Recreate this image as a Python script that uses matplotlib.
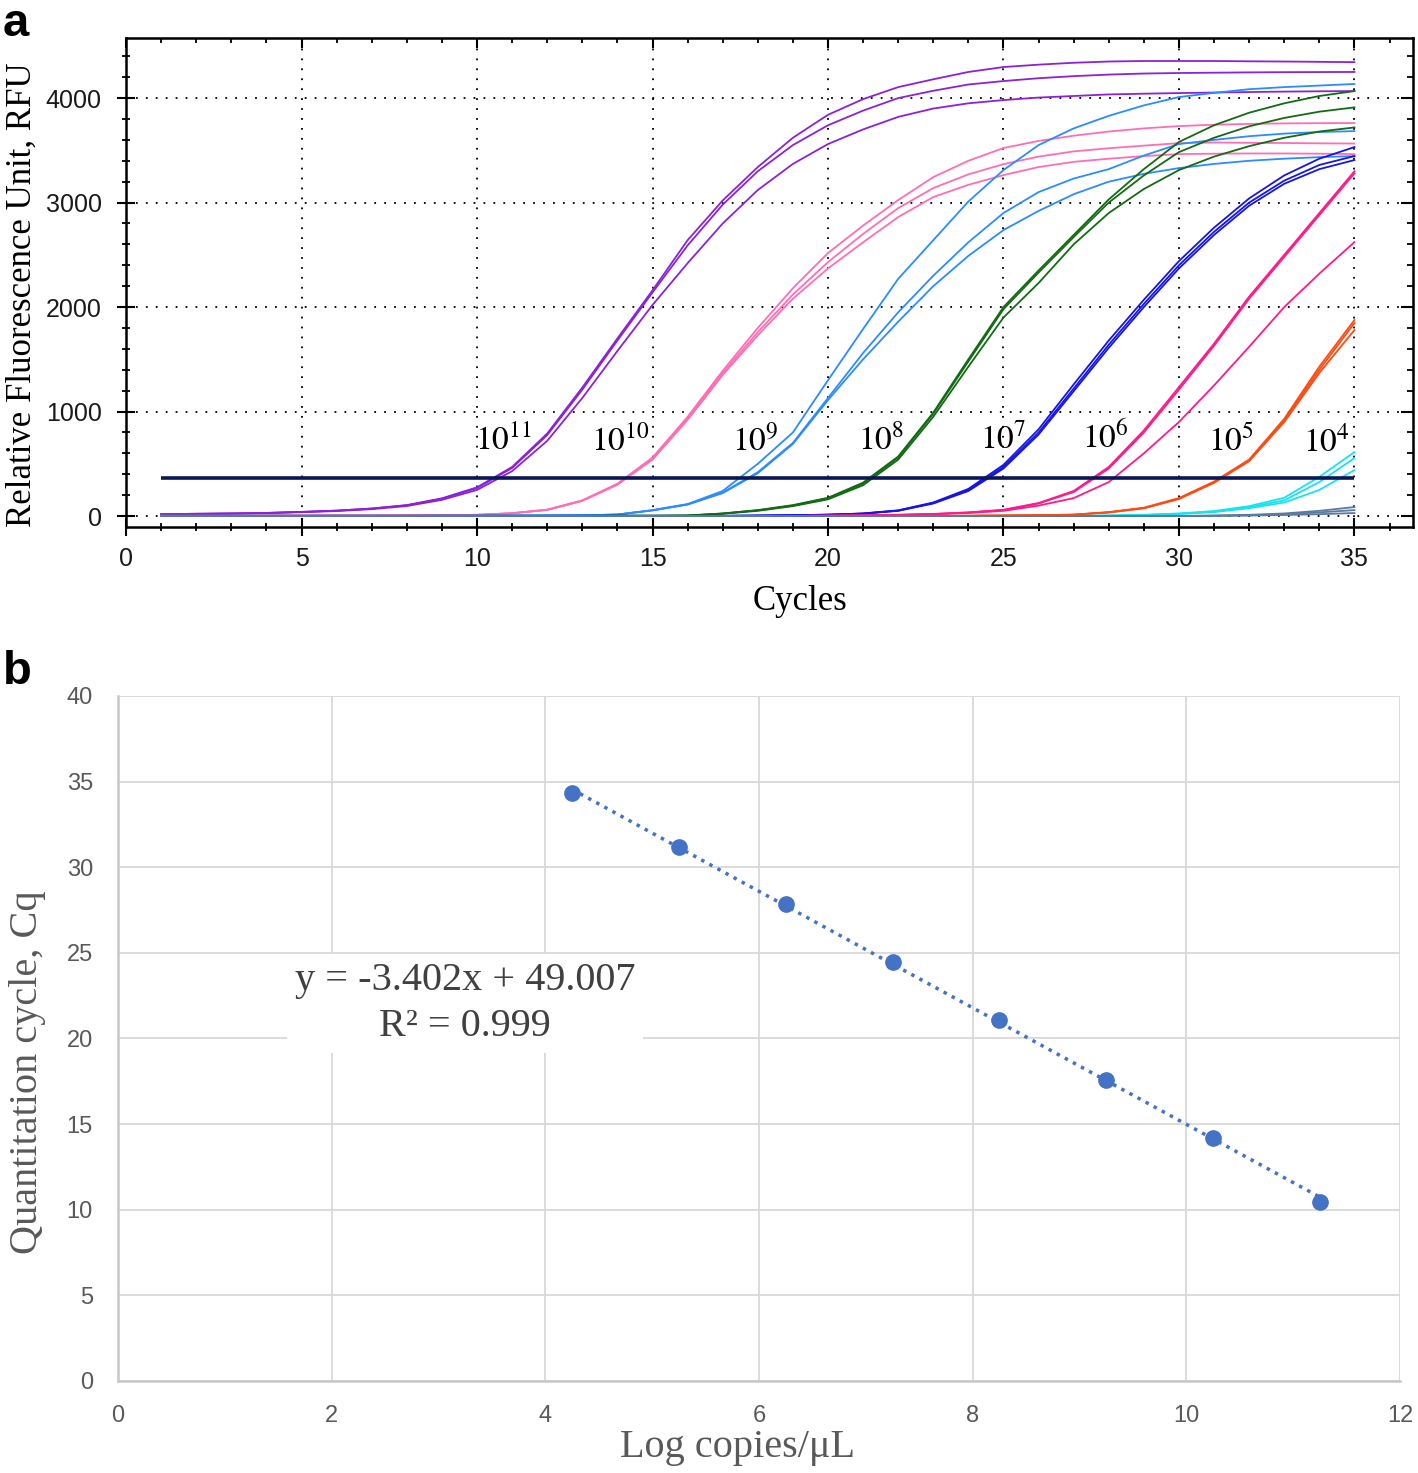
import numpy as np
import matplotlib
matplotlib.use('Agg')
import matplotlib.pyplot as plt
from matplotlib.ticker import MultipleLocator, NullFormatter

plt.rcParams['mathtext.fontset'] = 'stix'
plt.rcParams['font.family'] = ['Liberation Sans', 'DejaVu Sans']

# ---------------- panel a: amplification curves (RFU per cycle) ----------------
cycles = np.arange(1, 36)

rfu_e11_a = [18, 22, 25, 30, 40, 52, 72, 105, 170, 275, 470, 790, 1230, 1700, 2160, 2640, 3020, 3340, 3620, 3840,
             3990, 4105, 4180, 4250, 4297, 4320, 4338, 4350, 4355, 4355, 4355, 4352, 4350, 4347, 4344]
rfu_e11_b = [18, 22, 25, 30, 40, 52, 72, 103, 165, 268, 460, 775, 1210, 1680, 2140, 2590, 2980, 3300, 3550, 3740,
             3880, 4000, 4070, 4130, 4163, 4190, 4210, 4225, 4235, 4240, 4243, 4246, 4248, 4249, 4250]
rfu_e11_c = [16, 20, 23, 28, 37, 48, 66, 96, 155, 250, 430, 720, 1130, 1580, 2020, 2420, 2800, 3120, 3370, 3560,
             3700, 3820, 3900, 3950, 3981, 4005, 4020, 4035, 4042, 4048, 4053, 4058, 4062, 4065, 4067]

rfu_e10_a = [3, 3, 3, 4, 4, 5, 5, 6, 8, 12, 28, 62, 150, 310, 560, 950, 1390, 1800, 2180, 2517,
             2780, 3024, 3244, 3400, 3522, 3590, 3640, 3680, 3710, 3732, 3745, 3753, 3758, 3760, 3761]
rfu_e10_b = [3, 3, 3, 4, 4, 5, 5, 6, 8, 12, 27, 60, 148, 305, 550, 935, 1370, 1760, 2120, 2430,
             2700, 2947, 3139, 3270, 3368, 3440, 3490, 3520, 3545, 3569, 3575, 3572, 3570, 3567, 3565]
rfu_e10_c = [3, 3, 3, 4, 4, 5, 5, 6, 8, 11, 26, 58, 145, 300, 540, 920, 1350, 1730, 2080, 2370,
             2620, 2861, 3053, 3170, 3263, 3340, 3390, 3420, 3445, 3464, 3468, 3470, 3470, 3468, 3464]

rfu_e9_a = [2, 2, 2, 2, 2, 2, 2, 2, 3, 3, 4, 5, 7, 15, 57, 115, 240, 500, 800, 1300,
            1790, 2270, 2640, 3010, 3311, 3550, 3710, 3830, 3930, 4010, 4050, 4085, 4105, 4120, 4135]
rfu_e9_b = [2, 2, 2, 2, 2, 2, 2, 2, 3, 3, 4, 5, 7, 14, 55, 112, 225, 420, 700, 1130,
            1560, 1950, 2300, 2620, 2900, 3100, 3230, 3320, 3450, 3560, 3600, 3635, 3660, 3675, 3684]
rfu_e9_c = [2, 2, 2, 2, 2, 2, 2, 2, 3, 3, 4, 5, 7, 14, 54, 110, 220, 410, 690, 1110,
            1500, 1860, 2200, 2490, 2737, 2920, 3080, 3200, 3275, 3330, 3370, 3400, 3420, 3435, 3445]

rfu_e8_a = [2, 2, 2, 2, 2, 2, 2, 2, 2, 2, 2, 2, 2, 3, 3, 5, 25, 57, 105, 175,
            320, 570, 990, 1500, 2000, 2350, 2690, 3030, 3320, 3580, 3740, 3860, 3950, 4020, 4067]
rfu_e8_b = [2, 2, 2, 2, 2, 2, 2, 2, 2, 2, 2, 2, 2, 3, 3, 5, 24, 55, 100, 170,
            310, 560, 980, 1480, 1980, 2330, 2670, 3000, 3260, 3483, 3620, 3730, 3810, 3870, 3911]
rfu_e8_c = [2, 2, 2, 2, 2, 2, 2, 2, 2, 2, 2, 2, 2, 3, 3, 4, 22, 50, 95, 160,
            295, 540, 950, 1430, 1900, 2230, 2600, 2900, 3130, 3311, 3440, 3540, 3620, 3680, 3719]

rfu_e7_a = [2, 2, 2, 2, 2, 2, 2, 2, 2, 2, 2, 2, 2, 2, 2, 2, 2, 5, 8, 14,
            25, 55, 130, 260, 490, 830, 1260, 1680, 2070, 2440, 2760, 3040, 3260, 3420, 3531]
rfu_e7_b = [2, 2, 2, 2, 2, 2, 2, 2, 2, 2, 2, 2, 2, 2, 2, 2, 2, 5, 8, 13,
            24, 52, 125, 250, 470, 800, 1220, 1640, 2030, 2400, 2720, 3000, 3210, 3360, 3445]
rfu_e7_c = [2, 2, 2, 2, 2, 2, 2, 2, 2, 2, 2, 2, 2, 2, 2, 2, 2, 4, 7, 12,
            23, 50, 120, 240, 455, 780, 1195, 1610, 2000, 2370, 2690, 2970, 3180, 3320, 3407]

rfu_e6_a = [1, 1, 1, 1, 1, 1, 1, 1, 1, 1, 1, 1, 1, 1, 1, 1, 1, 1, 1, 4,
            7, 12, 20, 35, 60, 125, 240, 470, 820, 1234, 1650, 2100, 2500, 2900, 3300]
rfu_e6_b = [1, 1, 1, 1, 1, 1, 1, 1, 1, 1, 1, 1, 1, 1, 1, 1, 1, 1, 1, 4,
            7, 12, 20, 34, 58, 120, 230, 455, 800, 1210, 1630, 2080, 2480, 2880, 3280]
rfu_e6_c = [1, 1, 1, 1, 1, 1, 1, 1, 1, 1, 1, 1, 1, 1, 1, 1, 1, 1, 1, 3,
            6, 10, 17, 30, 50, 100, 172, 325, 600, 900, 1250, 1620, 2000, 2320, 2622]

rfu_e5_a = [1, 1, 1, 1, 1, 1, 1, 1, 1, 1, 1, 1, 1, 1, 1, 1, 1, 1, 1, 1,
            1, 1, 1, 3, 5, 8, 14, 38, 80, 172, 330, 540, 930, 1430, 1876]
rfu_e5_b = [1, 1, 1, 1, 1, 1, 1, 1, 1, 1, 1, 1, 1, 1, 1, 1, 1, 1, 1, 1,
            1, 1, 1, 3, 5, 8, 13, 36, 77, 168, 325, 535, 915, 1400, 1847]
rfu_e5_c = [1, 1, 1, 1, 1, 1, 1, 1, 1, 1, 1, 1, 1, 1, 1, 1, 1, 1, 1, 1,
            1, 1, 1, 3, 5, 7, 12, 34, 74, 163, 318, 525, 900, 1370, 1780]

rfu_e4_a = [0, 0, 0, 0, 0, 0, 0, 0, 0, 0, 0, 0, 0, 0, 0, 0, 0, 0, 0, 0,
            0, 0, 0, 0, 0, 0, 1, 5, 12, 25, 48, 95, 175, 375, 612]
rfu_e4_b = [0, 0, 0, 0, 0, 0, 0, 0, 0, 0, 0, 0, 0, 0, 0, 0, 0, 0, 0, 0,
            0, 0, 0, 0, 0, 0, 1, 4, 10, 22, 42, 85, 150, 325, 555]
rfu_e4_c = [0, 0, 0, 0, 0, 0, 0, 0, 0, 0, 0, 0, 0, 0, 0, 0, 0, 0, 0, 0,
            0, 0, 0, 0, 0, 0, 1, 3, 9, 20, 38, 75, 130, 250, 440]

rfu_ntc_a = [0, 0, 0, 0, 0, 0, 0, 0, 0, 0, 0, 0, 0, 0, 0, 0, 0, 0, 0, 0,
             0, 0, 0, 0, 0, 0, 0, 0, 0, 1, 5, 12, 25, 50, 86]
rfu_ntc_b = [0, 0, 0, 0, 0, 0, 0, 0, 0, 0, 0, 0, 0, 0, 0, 0, 0, 0, 0, 0,
             0, 0, 0, 0, 0, 0, 0, 0, 0, 1, 3, 8, 18, 35, 57]
rfu_ntc_c = [0, 0, 0, 0, 0, 0, 0, 0, 0, 0, 0, 0, 0, 0, 0, 0, 0, 0, 0, 0,
             0, 0, 0, 0, 0, 0, 0, 0, 0, 0, 2, 5, 10, 18, 29]

group_colors = ['#8b22d8', '#ff6eb4', '#2a8cff', '#136b13', '#1515e8', '#ff1a8c', '#ff4a10', '#17e3ee', '#5a7aa0']
group_curves = [
    [rfu_e11_a, rfu_e11_b, rfu_e11_c],
    [rfu_e10_a, rfu_e10_b, rfu_e10_c],
    [rfu_e9_a, rfu_e9_b, rfu_e9_c],
    [rfu_e8_a, rfu_e8_b, rfu_e8_c],
    [rfu_e7_a, rfu_e7_b, rfu_e7_c],
    [rfu_e6_a, rfu_e6_b, rfu_e6_c],
    [rfu_e5_a, rfu_e5_b, rfu_e5_c],
    [rfu_e4_a, rfu_e4_b, rfu_e4_c],
    [rfu_ntc_a, rfu_ntc_b, rfu_ntc_c],
]
threshold = 364

dilution_labels = ['$10^{11}$', '$10^{10}$', '$10^{9}$', '$10^{8}$', '$10^{7}$', '$10^{6}$', '$10^{5}$', '$10^{4}$']
label_cycle = [10.75, 14.09, 17.92, 21.51, 25.0, 27.89, 31.5, 34.2]
label_rfu = [630, 625, 630, 640, 650, 650, 615, 615]

# ---------------- panel b: standard curve ----------------
log_copies = [4.25, 5.25, 6.25, 7.25, 8.25, 9.25, 10.25, 11.25]
cq = [34.35, 31.2, 27.85, 24.45, 21.1, 17.55, 14.2, 10.45]
slope, intercept, r2 = -3.402, 49.007, 0.999

serif = 'Liberation Serif'

fig = plt.figure(figsize=(14.18, 14.73), dpi=100)

# ----- a -----
ax = fig.add_axes([0.0889, 0.6422, 0.9076, 0.3320])
for color, reps in zip(group_colors, group_curves):
    for r in reps:
        ax.plot(cycles, r, color=color, lw=1.3, zorder=3)
ax.hlines(threshold, cycles[0], cycles[-1], color='#0b1657', lw=2.6, zorder=4)

for lab, xc, yc in zip(dilution_labels, label_cycle, label_rfu):
    ax.text(xc, yc, lab, ha='center', va='baseline', fontsize=24, color='black', zorder=5)

ax.set_xlim(0, 36.67)
ax.set_ylim(-105, 4575)
ax.xaxis.set_major_locator(MultipleLocator(5))
ax.xaxis.set_minor_locator(MultipleLocator(1))
ax.yaxis.set_major_locator(MultipleLocator(1000))
ax.yaxis.set_minor_locator(MultipleLocator(200))
ax.grid(True, which='major', color='black', linestyle=(0, (1, 4.5)), lw=1.3)
ax.set_axisbelow(True)
ax.tick_params(which='major', direction='inout', length=13, width=1.5, labelsize=18, labelcolor='#1a1a1a')
ax.tick_params(axis='x', which='major', pad=8)
ax.tick_params(axis='y', which='major', pad=11)
ax.tick_params(which='minor', direction='inout', length=6, width=1.3)
for s in ax.spines.values():
    s.set_linewidth(1.8)

top = ax.secondary_xaxis('top')
top.xaxis.set_major_locator(MultipleLocator(5))
top.xaxis.set_minor_locator(MultipleLocator(1))
top.xaxis.set_major_formatter(NullFormatter())
top.tick_params(which='major', direction='in', length=7, width=1.5)
top.tick_params(which='minor', direction='in', length=3.5, width=1.3)
right = ax.secondary_yaxis('right')
right.yaxis.set_major_locator(MultipleLocator(1000))
right.yaxis.set_minor_locator(MultipleLocator(200))
right.yaxis.set_major_formatter(NullFormatter())
right.tick_params(which='major', direction='in', length=9, width=1.5)
right.tick_params(which='minor', direction='in', length=4.5, width=1.3)

fig.text(22 / 1418, 1 - 295 / 1473, 'Relative Fluorescence Unit, RFU', rotation=90,
         ha='center', va='center', fontsize=25, family=serif)
fig.text(800 / 1418, 1 - 601 / 1473, 'Cycles', ha='center', va='center', fontsize=25, family=serif)
fig.text(3 / 1418, 1 - 2 / 1473, 'a', ha='left', va='top', fontsize=34, fontweight='bold')

# ----- b -----
bx = fig.add_axes([0.0832, 0.0625, 0.9041, 0.4650])
bx.set_xlim(0, 12)
bx.set_ylim(0, 40)
bx.set_xticks(range(0, 13, 2))
bx.set_yticks(range(0, 41, 5))
bx.grid(True, color='#d9d9d9', lw=1.3)
bx.set_axisbelow(True)
for s in ['top', 'right']:
    bx.spines[s].set_visible(False)
for s in ['left', 'bottom']:
    bx.spines[s].set_color('#c8c8c8')
    bx.spines[s].set_linewidth(1.8)
bx.tick_params(length=0, labelsize=17, labelcolor='#595959')
bx.tick_params(axis='x', pad=17)
bx.tick_params(axis='y', pad=18)
for lab in bx.get_xticklabels() + bx.get_yticklabels():
    lab.set_family(['Liberation Sans Narrow', 'Liberation Sans'])

xfit = np.array([log_copies[0], log_copies[-1]])
bx.plot(xfit, slope * xfit + intercept, ls=':', color='#4472c4', lw=2.5, zorder=3)
bx.plot(log_copies, cq, 'o', color='#4472c4', ms=11, zorder=4)

bx.text(3.25, 22.05, f'y = {slope}x + {intercept:.3f}\nR\u00b2 = {r2}', ha='center', va='center',
        fontsize=29, family=serif, color='#404040', linespacing=1.3, zorder=5,
        bbox=dict(facecolor='white', edgecolor='none', boxstyle='square,pad=0.2'))

fig.text(28 / 1418, 1 - 1072 / 1473, 'Quantitation cycle, Cq', rotation=90, ha='center', va='center',
         fontsize=29, family=serif, color='#595959')
fig.text(737 / 1418, 1 - 1447 / 1473, 'Log copies/\u03bcL', ha='center', va='center',
         fontsize=29, family=serif, color='#595959')
fig.text(3 / 1418, 1 - 650 / 1473, 'b', ha='left', va='top', fontsize=34, fontweight='bold')

fig.savefig('out.png', dpi=100)
